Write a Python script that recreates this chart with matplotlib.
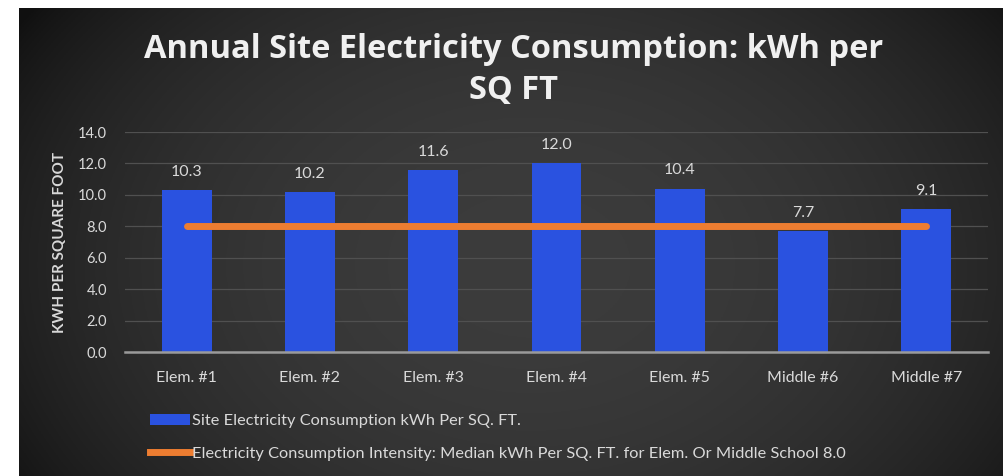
import numpy as np
import matplotlib
matplotlib.use("Agg")
import matplotlib.pyplot as plt
from matplotlib.patches import Patch
from matplotlib.lines import Line2D

categories = ["Elem. #1", "Elem. #2", "Elem. #3", "Elem. #4", "Elem. #5", "Middle #6", "Middle #7"]
site_kwh = [10.3, 10.2, 11.6, 12.0, 10.4, 7.7, 9.1]
median_kwh = [8.0, 8.0, 8.0, 8.0, 8.0, 8.0, 8.0]
y_ticks = [0, 2, 4, 6, 8, 10, 12, 14]

title = "Annual Site Electricity Consumption: kWh per\nSQ FT"
ylabel = "KWH PER SQUARE FOOT"
bar_label = "Site Electricity Consumption kWh Per SQ. FT."
line_label = "Electricity Consumption Intensity: Median kWh Per SQ. FT. for Elem. Or Middle School 8.0"

W, H = 1004, 476
fig = plt.figure(figsize=(W / 100, H / 100), dpi=100)
fig.patch.set_facecolor("white")

# dark gradient background panel
bg = fig.add_axes([19 / W, 0, (W - 19) / W, (H - 8) / H])
bg.set_axis_off()
nx, ny = 400, 200
xx, yy = np.meshgrid(np.linspace(0, 1, nx), np.linspace(0, 1, ny))
r2 = ((xx - 0.52) / 0.62) ** 2 + ((yy - 0.55) / 0.95) ** 2
v = 0.065 + 0.17 * np.clip(1 - r2, 0, 1) ** 0.8
img = np.dstack([v, v, v])
bg.imshow(img, aspect="auto", extent=[0, 1, 0, 1], origin="upper")
bg.set_xlim(0, 1)
bg.set_ylim(0, 1)

font = "Lato"
txtcol = "#d9d9d9"

ax = fig.add_axes([125 / W, 1 - 352 / H, (988 - 125) / W, (352 - 132) / H])
ax.set_facecolor("none")
x = np.arange(len(categories))
ax.bar(x, site_kwh, width=0.405, color="#2a52e0", zorder=2, label=bar_label)
ax.plot(x, median_kwh, color="#ed7d31", lw=5, solid_capstyle="round", zorder=3, label=line_label)

for xi, val in zip(x, site_kwh):
    ax.annotate(f"{val:.1f}", (xi, val), xytext=(0, 8), textcoords="offset points",
                ha="center", va="bottom", color=txtcol, fontsize=11.5, family=font)

ax.set_xlim(-0.5, len(categories) - 0.5)
ax.set_ylim(0, 14)
ax.set_yticks(y_ticks)
ax.set_yticklabels([f"{t:.1f}" for t in y_ticks], color=txtcol, fontsize=10.5, family=font)
ax.set_xticks(x)
ax.set_xticklabels(categories, color=txtcol, fontsize=11.5, family=font)
ax.tick_params(axis="both", length=0)
ax.tick_params(axis="x", pad=14)
ax.tick_params(axis="y", pad=13)
ax.grid(axis="y", color="#505050", lw=0.9, zorder=0)
for s in ["top", "right", "left"]:
    ax.spines[s].set_visible(False)
ax.spines["bottom"].set_color("#9a9a9a")
ax.spines["bottom"].set_linewidth(1.8)
ax.spines["bottom"].set_zorder(4)

fig.text(60 / W, 1 - 242 / H, ylabel, rotation=90, ha="center", va="center",
         color=txtcol, fontsize=11, fontweight="bold", family=font)

fig.text(514 / W, 1 - 70 / H, title, ha="center", va="center", color="#f0f0f0",
         fontsize=23.5, fontweight="bold", family="Open Sans", linespacing=1.35)

handles = [Patch(facecolor="#2a52e0", edgecolor="none"),
           Line2D([0], [0], color="#ed7d31", lw=5)]
leg = fig.legend(handles, [bar_label, line_label], loc="upper left",
                 bbox_to_anchor=(135 / W, 1 - 399 / H), frameon=False,
                 handlelength=2.45, handleheight=0.7, handletextpad=0.15,
                 labelspacing=1.1, prop={"family": font, "size": 11.8})
for t in leg.get_texts():
    t.set_color(txtcol)

fig.savefig("out.png", dpi=100, facecolor=fig.get_facecolor())
